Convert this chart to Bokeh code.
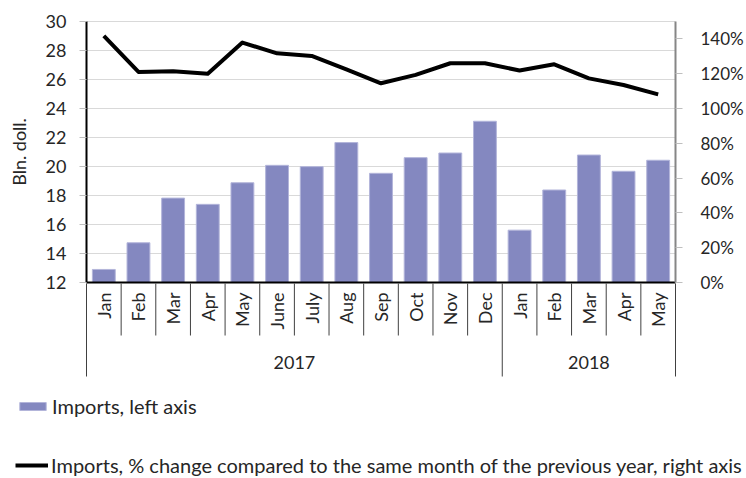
import math
from bokeh.plotting import figure
from bokeh.models import (Range1d, LinearAxis, SingleIntervalTicker,
                          NumeralTickFormatter, Legend, LegendItem, ColumnDataSource)
from bokeh.core.properties import value
from bokeh.embed import file_html
from bokeh.resources import INLINE

# ---------------- data ----------------
years = ["2017"] * 12 + ["2018"] * 5
months = ["Jan", "Feb", "Mar", "Apr", "May", "June", "July", "Aug", "Sep",
          "Oct", "Nov", "Dec", "Jan", "Feb", "Mar", "Apr", "May"]
imports_bln = [12.9, 14.74, 17.82, 17.39, 18.88, 20.08, 19.99, 21.65, 19.53,
               20.61, 20.93, 23.12, 15.61, 18.38, 20.79, 19.67, 20.43]
imports_yoy_pct = [141.7, 121.0, 121.4, 120.0, 137.9, 131.7, 130.2, 122.5, 114.5,
                   119.3, 126.0, 126.0, 121.8, 125.4, 117.3, 113.5, 108.1]
year_labels = ["2017", "2018"]
left_min, left_max, left_step = 12, 30, 2
right_min, right_max, right_step = 0.0, 1.5, 0.2
bar_label = "Imports, left axis"
line_label = "Imports, % change compared to the same month of the previous year, right axis"
left_axis_title = "Bln. doll."

# ---------------- styling / layout (pixels) ----------------
FONT = "Lato"
TXT = "#262626"
BAR = "#8488c0"
FS = "18px"
RFS = "17px"
LEG_FS = "20px"
W, H = 746, 478
PLOT_L, PLOT_R = 86, 675        # plot area left / right edge
PLOT_T, PLOT_B = 21, 282        # plot area top / bottom edge
MONTH_SEP, GROUP_SEP = 53, 94   # separator lengths below the axis
MONTH_Y, YEAR_Y = 10, 80        # label offsets below the axis

n = len(months)
unit = (PLOT_R - PLOT_L) / n


def span_range(lo, hi):
    s = (PLOT_B - PLOT_T) / (hi - lo)
    return Range1d(lo - (H - PLOT_B) / s, hi + PLOT_T / s)


p = figure(width=W, height=H,
           x_range=Range1d(-PLOT_L / unit, n + (W - PLOT_R) / unit),
           y_range=span_range(left_min, left_max),
           output_backend="svg", toolbar_location=None,
           min_border=0, min_border_left=0, min_border_right=0,
           min_border_top=0, min_border_bottom=0,
           x_axis_location=None, outline_line_color=None)
p.grid.visible = False
p.extra_y_ranges = {
    "pct": span_range(right_min, right_max),
    "below": Range1d(H - PLOT_B, -PLOT_B),   # pixels below the x axis line
}

centers = [i + 0.5 for i in range(n)]
yoy_frac = [v / 100.0 for v in imports_yoy_pct]

# horizontal grid lines
gticks = list(range(left_min, left_max + 1, left_step))
p.segment(x0=[0] * len(gticks), x1=[n] * len(gticks), y0=gticks, y1=gticks,
          line_color="#d9d9d9", line_width=1)

src = ColumnDataSource(dict(x=centers, top=imports_bln, yoy=yoy_frac))
bars = p.vbar(x="x", top="top", bottom=left_min, width=0.66, source=src,
              fill_color=BAR, line_color="#b3b5da", line_width=1)
line = p.line(x="x", y="yoy", source=src, y_range_name="pct",
              line_color="black", line_width=4, line_join="round")

# left axis
ya = p.yaxis[0]
ya.fixed_location = 0
ya.bounds = (left_min, left_max)
ya.ticker = SingleIntervalTicker(interval=left_step)
ya.axis_label = left_axis_title
ya.axis_label_text_font = FONT
ya.axis_label_text_font_size = FS
ya.axis_label_text_font_style = "normal"
ya.axis_label_text_color = TXT
ya.axis_label_standoff = 13
ya.axis_line_color = "black"
ya.axis_line_width = 2
ya.major_tick_line_color = "#bfbfbf"
ya.major_tick_out = 7
ya.major_tick_in = 0
ya.minor_tick_line_color = None
ya.major_label_text_font = FONT
ya.major_label_text_font_size = FS
ya.major_label_text_color = TXT
ya.major_label_standoff = 13

# right axis
ra = LinearAxis(y_range_name="pct", fixed_location=n,
                bounds=(right_min, right_max),
                ticker=SingleIntervalTicker(interval=right_step),
                formatter=NumeralTickFormatter(format="0%"))
ra.axis_line_color = "#868686"
ra.axis_line_width = 2
ra.major_tick_line_color = "#bfbfbf"
ra.major_tick_out = 7
ra.major_tick_in = 0
ra.minor_tick_line_color = None
ra.major_label_text_font = FONT
ra.major_label_text_font_size = RFS
ra.major_label_text_color = TXT
ra.major_label_standoff = 18
p.add_layout(ra, "right")

# category axis: base line, separators, month and year labels
p.segment(x0=[0], x1=[n], y0=[0], y1=[0], y_range_name="below",
          line_color="black", line_width=2)
bounds = list(range(n + 1))
group_bounds = {0, n}
for i in range(1, n):
    if years[i] != years[i - 1]:
        group_bounds.add(i)
sep_len = [GROUP_SEP if b in group_bounds else MONTH_SEP for b in bounds]
p.segment(x0=bounds, y0=[1] * len(bounds), x1=bounds, y1=sep_len,
          y_range_name="below", line_color="#404040", line_width=1)

p.text(x=centers, y=[MONTH_Y] * n, text=months, angle=math.pi / 2,
       y_range_name="below", text_align="right", text_baseline="middle",
       text_font=value(FONT), text_font_size=FS, text_color=TXT)

ycenters = []
for yl in year_labels:
    idx = [i for i, yv in enumerate(years) if yv == yl]
    ycenters.append((idx[0] + idx[-1] + 1) / 2)
p.text(x=ycenters, y=[YEAR_Y] * len(year_labels), text=year_labels,
       y_range_name="below", text_align="center", text_baseline="middle",
       text_font=value(FONT), text_font_size=FS, text_color=TXT)


def mk_legend(label, r, loc):
    return Legend(items=[LegendItem(label=label, renderers=[r])], location=loc,
                  padding=0, margin=0, spacing=0, border_line_color=None,
                  background_fill_alpha=0, label_text_font=FONT,
                  label_text_font_size=LEG_FS, label_text_color=TXT,
                  glyph_width=33, glyph_height=10, label_standoff=3,
                  label_height=10)


p.add_layout(mk_legend(bar_label, bars, (16, 60)))
p.add_layout(mk_legend(line_label, line, (15, 1)))

open("out.html", "w").write(file_html(p, INLINE))
